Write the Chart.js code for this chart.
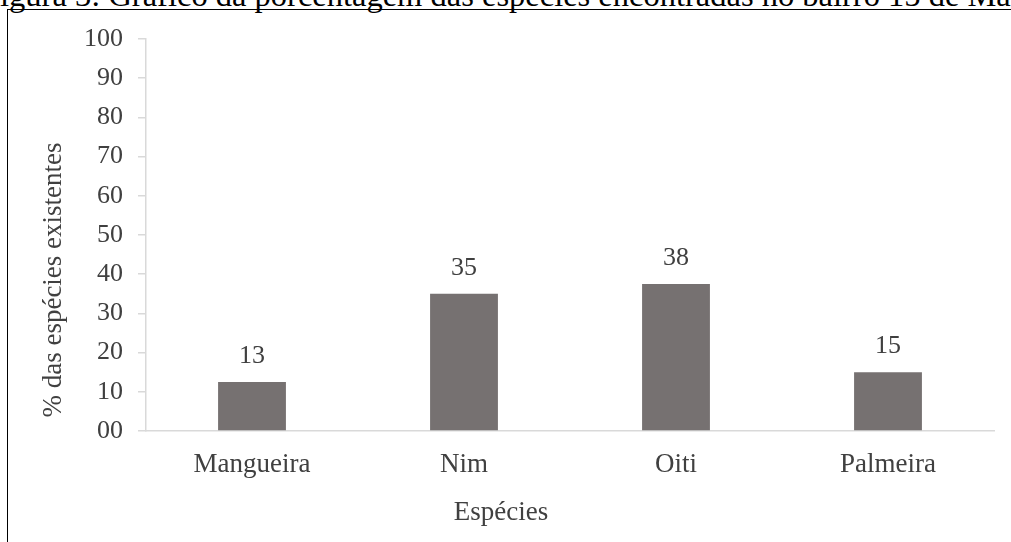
<!DOCTYPE html>
<html>
<head>
<meta charset="utf-8">
<script src="https://cdn.jsdelivr.net/npm/chart.js@4.4.1/dist/chart.umd.min.js"></script>
<style>
  html, body { margin: 0; padding: 0; background: #fff; overflow: hidden; }
  #wrap { position: relative; width: 1011px; height: 542px; overflow: hidden; }
  #chart { position: absolute; left: 0; top: 0; }
  #frame { position: absolute; left: 7px; top: 9px; width: 1100px; height: 600px; border: 1.5px solid #000; pointer-events: none; }
  #caption { position: absolute; left: -18px; top: -21px; white-space: nowrap; font-family: 'Liberation Serif', 'Times New Roman', serif; font-size: 32.5px; line-height: 33px; color: #000; }
</style>
</head>
<body>
<div id="wrap">
  <div id="caption">Figura 3: Gráfico da  porcentagem das espécies encontradas no bairro 15 de Março</div>
  <div id="frame"></div>
  <canvas id="chart" width="1011" height="542"></canvas>
</div>
<script>
const categories = ['Mangueira', 'Nim', 'Oiti', 'Palmeira'];
const percentValues = [12.5, 35, 37.5, 15];
const yTicks = [0, 10, 20, 30, 40, 50, 60, 70, 80, 90, 100];
const xAxisTitle = 'Espécies';
const yAxisTitle = '% das espécies existentes';

const textColor = '#404040';
const axisColor = '#d9d9d9';
const fontFamily = "'Liberation Serif', 'Times New Roman', serif";

const labelsPlugin = {
  id: 'labelsPlugin',
  afterDatasetsDraw(chart) {
    const ctx = chart.ctx;
    const meta = chart.getDatasetMeta(0);
    ctx.save();
    ctx.fillStyle = textColor;
    ctx.font = '26px ' + fontFamily;
    ctx.textAlign = 'center';
    ctx.textBaseline = 'middle';
    meta.data.forEach((bar, i) => {
      ctx.fillText(String(Math.round(percentValues[i])), bar.x, bar.y - 26);
    });
    // axis titles
    ctx.font = '27px ' + fontFamily;
    ctx.fillText(xAxisTitle, 501, 513);
    ctx.translate(54, 280);
    ctx.rotate(-Math.PI / 2);
    ctx.fillText(yAxisTitle, 0, 0);
    ctx.restore();
  }
};

new Chart(document.getElementById('chart'), {
  type: 'bar',
  data: {
    labels: categories,
    datasets: [{
      data: percentValues,
      backgroundColor: '#767171',
      borderWidth: 0,
      barPercentage: 0.32,
      categoryPercentage: 1.0
    }]
  },
  options: {
    responsive: false,
    animation: false,
    devicePixelRatio: 1,
    layout: { padding: { left: 0, right: 17, top: 39, bottom: 0 } },
    plugins: { legend: { display: false }, tooltip: { enabled: false }, title: { display: false } },
    scales: {
      x: {
        afterFit(scale) { scale.height = 111; },
        grid: { display: true, drawOnChartArea: false, drawTicks: false },
        border: { display: true, color: axisColor, width: 1.5 },
        ticks: { color: textColor, padding: 18, font: { family: fontFamily, size: 27 } }
      },
      y: {
        min: 0,
        max: 100,
        afterFit(scale) { scale.width = 146; },
        afterBuildTicks(scale) { scale.ticks = yTicks.map(v => ({ value: v })); },
        grid: { display: true, drawOnChartArea: false, drawTicks: true, tickLength: 8, color: axisColor, lineWidth: 1.5 },
        border: { display: true, color: axisColor, width: 1.5 },
        ticks: {
          color: textColor,
          padding: 15,
          font: { family: fontFamily, size: 26 },
          callback(v) { return v === 0 ? '00' : String(v); }
        }
      }
    }
  },
  plugins: [labelsPlugin]
});
</script>
</body>
</html>
